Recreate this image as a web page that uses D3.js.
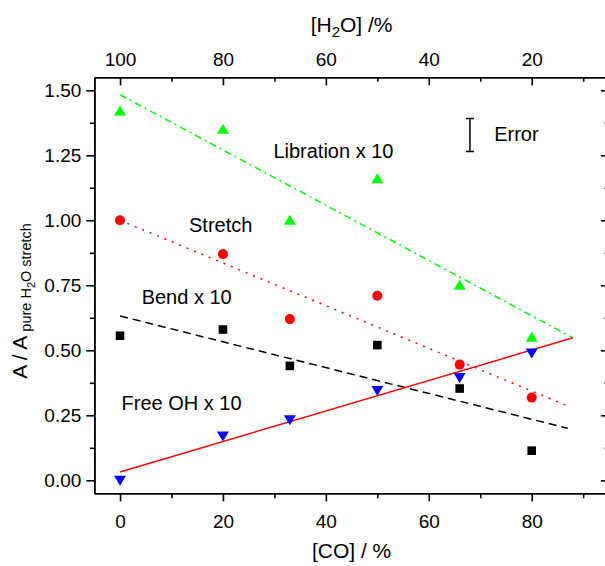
<!DOCTYPE html>
<html>
<head>
<meta charset="utf-8">
<script src="https://cdn.jsdelivr.net/npm/d3@7"></script>
<style>
  html, body { margin: 0; padding: 0; background: #fff; }
  svg { display: block; font-family: "Liberation Sans", Arial, sans-serif; }
</style>
</head>
<body>
<svg id="chart" width="605" height="566"></svg>
<script>
// ---------------- data ----------------
const coPercent = [0, 20, 33, 50, 66, 80];
const libration = [1.42, 1.35, 1.00, 1.16, 0.75, 0.55];
const stretch   = [1.00, 0.87, 0.62, 0.71, 0.445, 0.318];
const bend      = [0.556, 0.58, 0.44, 0.52, 0.353, 0.114];
const freeOH    = [0.00, 0.17, 0.233, 0.345, 0.395, 0.49];

// fit lines: [x0, y0, x1, y1]
const fitLibration = [0, 1.483, 88, 0.548];
const fitStretch   = [0, 1.00, 86.5, 0.29];
const fitBend      = [0, 0.632, 87, 0.20];
const fitFreeOH    = [0, 0.032, 88, 0.548];

const bottomMajor = [0, 20, 40, 60, 80];
const bottomMinor = [10, 30, 50, 70, 90];
const topMajor = [100, 80, 60, 40, 20];
const topMinor = [90, 70, 50, 30, 10];
const leftMajor = [0, 0.25, 0.5, 0.75, 1.0, 1.25, 1.5];
const leftMinor = [0.125, 0.375, 0.625, 0.875, 1.125, 1.375];

const errorBar = { co: 68, lo: 1.265, hi: 1.392 };

const labels = [
  { text: "Libration x 10", co: 29.8, v: 1.24 },
  { text: "Stretch", co: 13.4, v: 0.954 },
  { text: "Bend x 10", co: 4.2, v: 0.677 },
  { text: "Free OH x 10", co: 0.3, v: 0.27 },
  { text: "Error", co: 72.7, v: 1.306 }
];

// ---------------- scales ----------------
const svg = d3.select("#chart");
const x = d3.scaleLinear().domain([-5, 95]).range([94.3, 608.9]);
const xTop = d3.scaleLinear().domain([105, 5]).range([94.3, 608.9]);
const y = d3.scaleLinear().domain([-0.05, 1.55]).range([493.3, 77.3]);

const AX_W = 1.6;
function styleAxis(g) {
  g.select(".domain").attr("stroke", "#000").attr("stroke-width", AX_W);
  g.selectAll(".tick line").attr("stroke", "#000").attr("stroke-width", AX_W);
  g.selectAll(".tick text").attr("fill", "#000").attr("font-size", 19)
    .attr("font-family", "'Liberation Sans', Arial, sans-serif");
}

// bottom axis
svg.append("g").attr("transform", `translate(0,${y.range()[0]})`)
  .call(d3.axisBottom(x).tickValues(bottomMinor).tickSize(5).tickFormat("").tickSizeOuter(0))
  .call(styleAxis);
svg.append("g").attr("transform", `translate(0,${y.range()[0]})`)
  .call(d3.axisBottom(x).tickValues(bottomMajor).tickSize(8).tickPadding(13).tickSizeOuter(0))
  .call(styleAxis);

// top axis (inward ticks)
svg.append("g").attr("transform", `translate(0,${y.range()[1]})`)
  .call(d3.axisTop(xTop).tickValues(topMinor).tickSize(-4.5).tickFormat("").tickSizeOuter(0))
  .call(styleAxis);
svg.append("g").attr("transform", `translate(0,${y.range()[1]})`)
  .call(d3.axisTop(xTop).tickValues(topMajor).tickSize(-8).tickPadding(11).tickSizeOuter(0))
  .call(styleAxis);

// left axis
svg.append("g").attr("transform", `translate(${x.range()[0]},0)`)
  .call(d3.axisLeft(y).tickValues(leftMinor).tickSize(4.5).tickFormat("").tickSizeOuter(0))
  .call(styleAxis);
svg.append("g").attr("transform", `translate(${x.range()[0]},0)`)
  .call(d3.axisLeft(y).tickValues(leftMajor).tickSize(8).tickPadding(5)
    .tickFormat(d3.format(".2f")).tickSizeOuter(0))
  .call(styleAxis);

// right axis (inward ticks)
svg.append("g").attr("transform", `translate(${x.range()[1]},0)`)
  .call(d3.axisRight(y).tickValues(leftMinor).tickSize(-4.5).tickFormat("").tickSizeOuter(0))
  .call(styleAxis);
svg.append("g").attr("transform", `translate(${x.range()[1]},0)`)
  .call(d3.axisRight(y).tickValues(leftMajor).tickSize(-8).tickFormat("").tickSizeOuter(0))
  .call(styleAxis);

// ---------------- fit lines ----------------
function fitLine(f, color, dash) {
  svg.append("line")
    .attr("x1", x(f[0])).attr("y1", y(f[1]))
    .attr("x2", x(f[2])).attr("y2", y(f[3]))
    .attr("stroke", color).attr("stroke-width", 1.5)
    .attr("stroke-dasharray", dash);
}
fitLine(fitLibration, "#00ff00", "7,4,2,4");
fitLine(fitStretch, "#ff0000", "2,6");
fitLine(fitBend, "#000000", "8,5");
fitLine(fitFreeOH, "#ff0000", null);

// ---------------- markers ----------------
const triUp = "M0,-5.5L6,4.5L-6,4.5Z";
const triDown = "M0,5.5L6,-4.5L-6,-4.5Z";
function markers(vals, kind, color) {
  const g = svg.append("g");
  vals.forEach((v, i) => {
    const cx = x(coPercent[i]), cy = y(v);
    if (kind === "circle") {
      g.append("circle").attr("cx", cx).attr("cy", cy).attr("r", 5).attr("fill", color);
    } else if (kind === "square") {
      g.append("rect").attr("x", cx - 4.3).attr("y", cy - 4.3)
        .attr("width", 8.6).attr("height", 8.6).attr("fill", color);
    } else {
      g.append("path").attr("d", kind === "up" ? triUp : triDown)
        .attr("transform", `translate(${cx},${cy})`).attr("fill", color);
    }
  });
}
markers(libration, "up", "#00ff00");
markers(stretch, "circle", "#ff0000");
markers(bend, "square", "#000000");
markers(freeOH, "down", "#0000ff");

// ---------------- error bar ----------------
const ex = x(errorBar.co);
svg.append("path")
  .attr("d", `M${ex - 4},${y(errorBar.hi)}H${ex + 4}M${ex},${y(errorBar.hi)}V${y(errorBar.lo)}M${ex - 4},${y(errorBar.lo)}H${ex + 4}`)
  .attr("stroke", "#000").attr("stroke-width", 1.5).attr("fill", "none");

// ---------------- annotations ----------------
svg.append("g").selectAll("text").data(labels).join("text")
  .attr("x", d => x(d.co)).attr("y", d => y(d.v))
  .attr("font-size", 20).attr("fill", "#000")
  .text(d => d.text);

// ---------------- axis titles ----------------
const midX = (x.range()[0] + x.range()[1]) / 2;
svg.append("text").attr("x", midX).attr("y", 558)
  .attr("text-anchor", "middle").attr("font-size", 21).text("[CO] / %");

const tt = svg.append("text").attr("x", midX).attr("y", 32)
  .attr("text-anchor", "middle").attr("font-size", 21);
tt.append("tspan").text("[H");
tt.append("tspan").attr("font-size", 15).attr("dy", 5).text("2");
tt.append("tspan").attr("dy", -5).text("O] /%");

const yl = svg.append("text")
  .attr("transform", `translate(27,301) rotate(-90)`)
  .attr("text-anchor", "middle").attr("font-size", 21);
yl.append("tspan").text("A / A");
yl.append("tspan").attr("font-size", 14.5).attr("dx", 4).attr("dy", 4).text("pure H");
yl.append("tspan").attr("font-size", 11).attr("dy", 4).text("2");
yl.append("tspan").attr("font-size", 14.5).attr("dy", -4).text("O stretch");
</script>
</body>
</html>
